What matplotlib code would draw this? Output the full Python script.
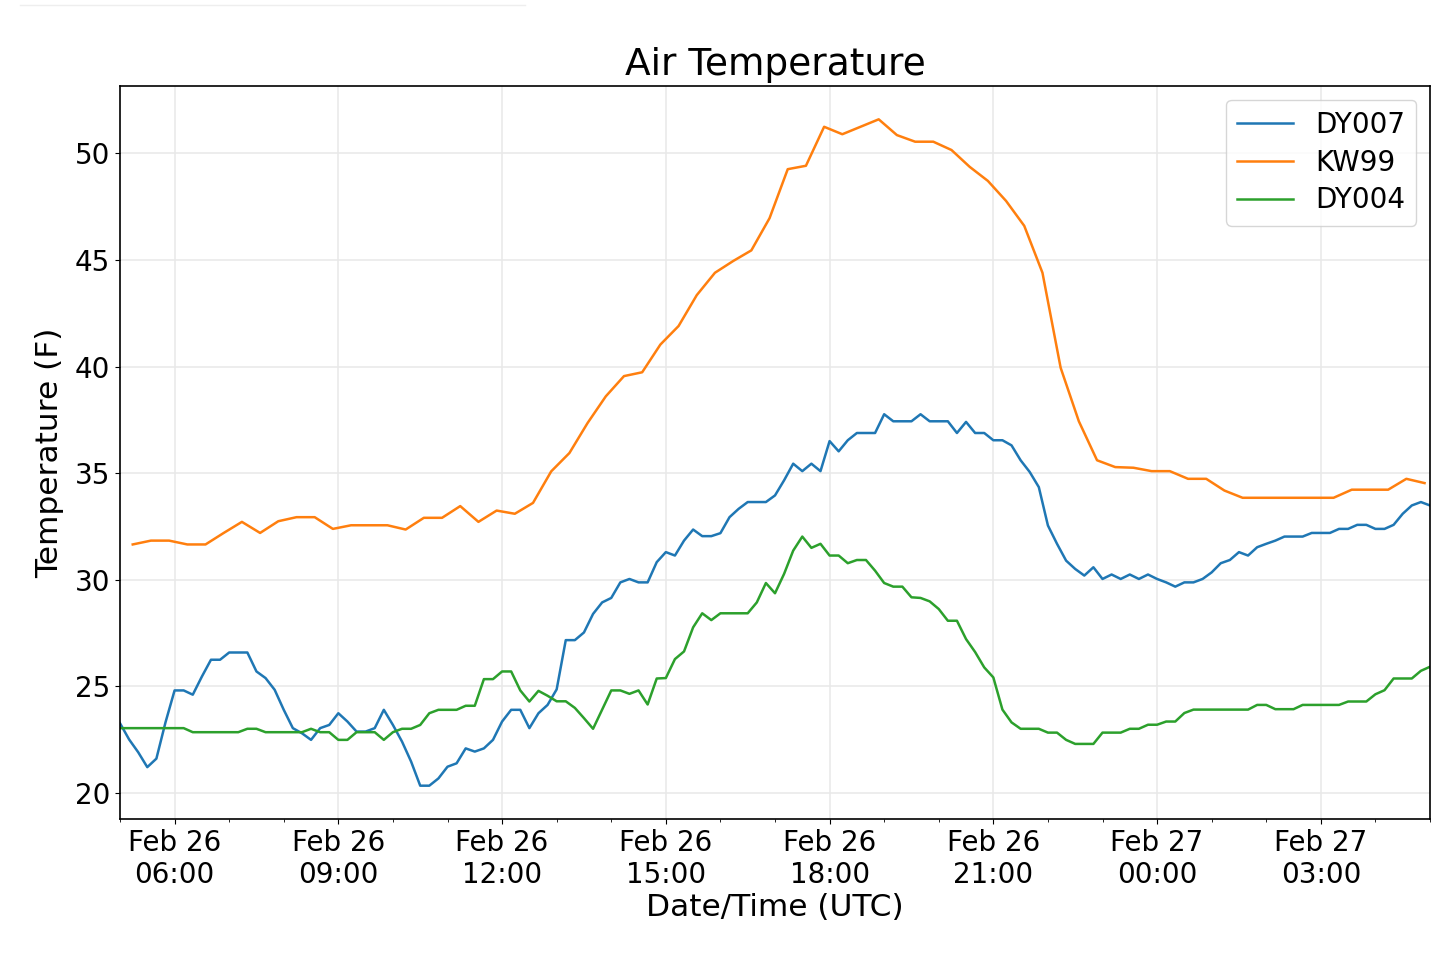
import numpy as np
import pandas as pd
import matplotlib
matplotlib.use('Agg')
from matplotlib import pyplot as plt
import matplotlib.dates as mdates
from matplotlib.lines import Line2D

# 10-minute stations, Feb 26 05:00 -> Feb 27 05:00 (UTC)
dy007 = [23.26, 22.5, 21.9, 21.2, 21.6, 23.3, 24.8, 24.8, 24.6, 25.45,
         26.24, 26.24, 26.58, 26.58, 26.58, 25.69, 25.38, 24.83, 23.89, 23.03,
         22.79, 22.48, 23.03, 23.18, 23.73, 23.34, 22.87, 22.87, 23.03, 23.89,
         23.18, 22.40, 21.46, 20.33, 20.33, 20.67, 21.22, 21.38, 22.08, 21.93,
         22.08, 22.48, 23.34, 23.89, 23.89, 23.03, 23.73, 24.12, 24.85, 27.16,
         27.16, 27.52, 28.39, 28.93, 29.14, 29.87, 30.03, 29.87, 29.87, 30.82,
         31.29, 31.13, 31.83, 32.35, 32.04, 32.04, 32.18, 32.93, 33.32, 33.64,
         33.64, 33.64, 33.95, 34.66, 35.44, 35.09, 35.44, 35.09, 36.50, 36.02,
         36.54, 36.88, 36.88, 36.88, 37.76, 37.43, 37.43, 37.43, 37.76, 37.43,
         37.43, 37.43, 36.88, 37.40, 36.88, 36.88, 36.54, 36.54, 36.30, 35.60,
         35.05, 34.34, 32.54, 31.68, 30.89, 30.50, 30.19, 30.58, 30.03, 30.24,
         30.03, 30.24, 30.03, 30.24, 30.03, 29.87, 29.67, 29.87, 29.87, 30.03,
         30.34, 30.77, 30.92, 31.29, 31.13, 31.52, 31.68, 31.83, 32.02, 32.02,
         32.02, 32.19, 32.19, 32.19, 32.38, 32.38, 32.57, 32.57, 32.38, 32.38,
         32.57, 33.09, 33.48, 33.64, 33.48]

dy004 = [23.03, 23.03, 23.03, 23.03, 23.03, 23.03, 23.03, 23.03, 22.84, 22.84,
         22.84, 22.84, 22.84, 22.84, 23.0, 23.0, 22.84, 22.84, 22.84, 22.84,
         22.84, 23.0, 22.84, 22.84, 22.48, 22.48, 22.84, 22.84, 22.84, 22.48,
         22.84, 23.0, 23.0, 23.18, 23.73, 23.89, 23.89, 23.89, 24.08, 24.08,
         25.33, 25.33, 25.69, 25.69, 24.80, 24.28, 24.78, 24.55, 24.29, 24.29,
         23.98, 23.5, 23.0, 23.9, 24.8, 24.8, 24.64, 24.8, 24.14, 25.36,
         25.38, 26.27, 26.63, 27.76, 28.42, 28.10, 28.42, 28.42, 28.42, 28.42,
         28.93, 29.84, 29.36, 30.27, 31.36, 32.02, 31.49, 31.68, 31.13, 31.13,
         30.77, 30.92, 30.92, 30.42, 29.84, 29.67, 29.67, 29.17, 29.14, 28.98,
         28.62, 28.07, 28.07, 27.21, 26.6, 25.88, 25.41, 23.9, 23.3, 23.0,
         23.0, 23.0, 22.82, 22.82, 22.48, 22.29, 22.29, 22.29, 22.82, 22.82,
         22.82, 23.0, 23.0, 23.19, 23.19, 23.34, 23.34, 23.74, 23.9, 23.9,
         23.9, 23.9, 23.9, 23.9, 23.9, 24.12, 24.12, 23.92, 23.92, 23.92,
         24.12, 24.12, 24.12, 24.12, 24.12, 24.28, 24.28, 24.28, 24.62, 24.81,
         25.36, 25.36, 25.36, 25.72, 25.91]

# 20-minute station
kw99 = [31.65, 31.83, 31.83, 31.65, 31.65, 32.19, 32.71, 32.19, 32.74, 32.93,
        32.93, 32.38, 32.55, 32.55, 32.55, 32.35, 32.90, 32.90, 33.45, 32.71,
        33.24, 33.09, 33.6, 35.08, 35.94, 37.35, 38.6, 39.55, 39.73, 41.03,
        41.9, 43.35, 44.4, 44.95, 45.45, 46.96, 49.26, 49.42, 51.25, 50.9,
        51.25, 51.6, 50.86, 50.55, 50.55, 50.16, 49.37, 48.71, 47.77, 46.6,
        44.4, 39.94, 37.43, 35.6, 35.28, 35.25, 35.09, 35.09, 34.73, 34.73,
        34.18, 33.84, 33.84, 33.84, 33.84, 33.84, 33.84, 34.22, 34.22, 34.22,
        34.73, 34.53]

t10 = pd.date_range('2020-02-26 05:00', periods=len(dy007), freq='10min')
t20 = pd.date_range('2020-02-26 05:14', periods=len(kw99), freq='20min')

fig = plt.figure(figsize=(14.4, 9.6), dpi=100)
ax = fig.add_axes([120/1440, 1 - 819/960, 1310/1440, 733/960])

ax.plot(t10, dy007, color='#1f77b4', lw=1.8, label='DY007')
ax.plot(t20, kw99, color='#ff7f0e', lw=1.8, label='KW99')
ax.plot(t10, dy004, color='#2ca02c', lw=1.8, label='DY004')

ax.set_xlim(t10[0], t10[-1])
ax.xaxis.set_major_locator(mdates.HourLocator(byhour=range(0, 24, 3)))
ax.xaxis.set_minor_locator(mdates.HourLocator())
ax.xaxis.set_major_formatter(mdates.DateFormatter('%b %d\n%H:%M'))

ax.grid(True, color='#e8e8e8', linewidth=1.1)
ax.tick_params(labelsize=20)
for s in ax.spines.values():
    s.set_linewidth(1.2)

ax.set_title('Air Temperature', fontsize=27, pad=8)
ax.set_xlabel('Date/Time (UTC)', fontsize=22.5, labelpad=3)
ax.set_ylabel('Temperature (F)', fontsize=22.5, labelpad=8)
ax.legend(loc='upper right', fontsize=20, labelspacing=0.35)

# faint line along the top of the screenshot
fig.add_artist(Line2D([20/1440, 525/1440], [1 - 5/960, 1 - 5/960],
                      color='#eeeeee', lw=1))

fig.savefig('out.png', dpi=100)
